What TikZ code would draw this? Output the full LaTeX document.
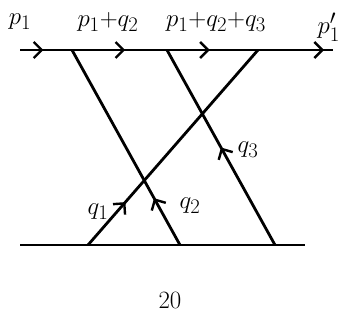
\documentclass[tikz,border=0pt]{standalone}
\usepackage{amsmath}
\usetikzlibrary{decorations.markings, arrows.meta}

\tikzset{
  line/.style={line width=2.8pt},
  midarrow/.style={postaction={decorate}, decoration={markings,
      mark=at position #1 with {\arrow[line width=2.4pt]{Straight Barb[length=8pt, width=16pt]}}}},
  lbl/.style={font=\Huge}
}

\begin{document}
\begin{tikzpicture}[x=1pt, y=-1pt]
  \useasboundingbox (0,0) rectangle (343,327);
  % vertices on the two lines
  \coordinate (in)  at (20,50);
  \coordinate (v1)  at (72,50);
  \coordinate (v2)  at (167,50);
  \coordinate (v3)  at (258,50);
  \coordinate (out) at (333,50);
  \coordinate (bl)  at (20,245);
  \coordinate (b1)  at (88,245);
  \coordinate (b2)  at (180,245);
  \coordinate (b3)  at (275,245);
  \coordinate (br)  at (305,245);
  % upper line
  \draw[line, midarrow=0.45] (in) -- (v1);
  \draw[line, midarrow=0.56] (v1) -- (v2);
  \draw[line, midarrow=0.47] (v2) -- (v3);
  \draw[line, midarrow=0.88] (v3) -- (out);
  % lower line
  \draw[line] (bl) -- (br);
  % exchanged lines
  \draw[line, midarrow=0.22] (b1) -- (v3);
  \draw[line, midarrow=0.24] (b2) -- (v1);
  \draw[line, midarrow=0.50] (b3) -- (v2);
  % labels
  \node[lbl] (p1)   at (20,22)  {$p_1$};
  \node[lbl] (p1q2) at (108,22) {$p_1{+}q_2$};
  \node[lbl] (p1q3) at (216,22) {$p_1{+}q_2{+}q_3$};
  \node[lbl, anchor=east, inner sep=1pt] (p1p) at (341,27) {$p_1'$};
  \node[lbl] (q1) at (98,212) {$q_1$};
  \node[lbl] (q2) at (190,206) {$q_2$};
  \node[lbl] (q3) at (248,150) {$q_3$};
  \node[lbl] (num) at (170,300) {$20$};
\end{tikzpicture}
\end{document}
